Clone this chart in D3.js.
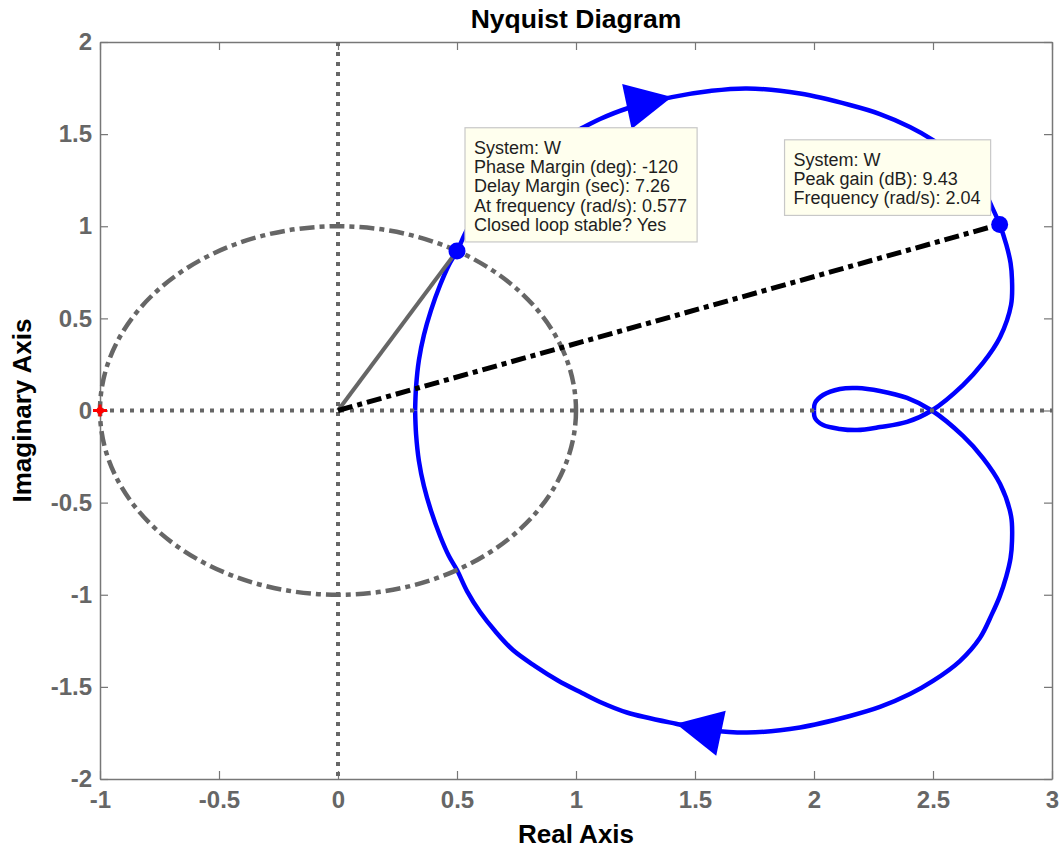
<!DOCTYPE html>
<html>
<head>
<meta charset="utf-8">
<script src="https://cdn.jsdelivr.net/npm/d3@7"></script>
<style>
  body { margin: 0; background: #fff; }
  text { font-family: Arial, "Liberation Sans", sans-serif; }
</style>
</head>
<body>
<svg id="chart" width="1062" height="850"></svg>
<script>
// axis ticks
const xTicks = [-1, -0.5, 0, 0.5, 1, 1.5, 2, 2.5, 3];
const yTicks = [-2, -1.5, -1, -0.5, 0, 0.5, 1, 1.5, 2];

// positive frequency branch (w = 0 -> inf)
const posRe = [0.324, 0.328, 0.34, 0.361, 0.391, 0.429, 0.466, 0.5, 0.542, 0.597, 0.66, 0.735, 0.828, 0.924, 1.025, 1.101, 1.214, 1.403, 1.563, 1.718, 1.941, 2.151, 2.277, 2.403, 2.5, 2.613, 2.697, 2.748, 2.78, 2.808, 2.826, 2.832, 2.828, 2.782, 2.71, 2.626, 2.495, 2.391, 2.277, 2.181, 2.109, 2.038, 2.004, 2.0];
const posIm = [0, 0.128, 0.274, 0.41, 0.545, 0.681, 0.79, 0.866, 0.98, 1.094, 1.197, 1.3, 1.387, 1.465, 1.533, 1.582, 1.639, 1.701, 1.734, 1.748, 1.72, 1.658, 1.609, 1.539, 1.468, 1.36, 1.235, 1.104, 1.01, 0.9, 0.8, 0.708, 0.573, 0.399, 0.258, 0.138, 0, -0.062, -0.09, -0.106, -0.1, -0.079, -0.041, 0];

// negative frequency branch (w = -inf -> 0)
const negRe = [2.0, 2.004, 2.038, 2.109, 2.181, 2.277, 2.391, 2.495, 2.626, 2.71, 2.782, 2.828, 2.832, 2.826, 2.808, 2.78, 2.748, 2.697, 2.613, 2.5, 2.403, 2.277, 2.151, 1.941, 1.718, 1.563, 1.42, 1.214, 1.101, 1.025, 0.924, 0.828, 0.735, 0.66, 0.597, 0.542, 0.5, 0.466, 0.429, 0.391, 0.361, 0.34, 0.328, 0.324];
const negIm = [0, 0.04, 0.084, 0.117, 0.122, 0.106, 0.068, 0, -0.138, -0.258, -0.399, -0.573, -0.708, -0.8, -0.9, -1.01, -1.104, -1.235, -1.36, -1.468, -1.539, -1.609, -1.658, -1.72, -1.748, -1.734, -1.7, -1.639, -1.582, -1.533, -1.465, -1.387, -1.3, -1.197, -1.094, -0.98, -0.866, -0.79, -0.681, -0.545, -0.41, -0.274, -0.128, 0];

// arrow positions (index into each branch)
const posArrow = 17;
const negArrow = 26;

// characteristic points
const pmPoint = [0.5, 0.866];
const peakPoint = [2.78, 1.01];
const critPoint = [-1, 0];

const pmText = [
  'System: W',
  'Phase Margin (deg): -120',
  'Delay Margin (sec): 7.26',
  'At frequency (rad/s): 0.577',
  'Closed loop stable? Yes'
];
const peakText = [
  'System: W',
  'Peak gain (dB): 9.43',
  'Frequency (rad/s): 2.04'
];

const svg = d3.select('#chart');
const pLeft = 100, pRight = 1052, pTop = 42, pBottom = 779;

const x = d3.scaleLinear().domain([-1, 3]).range([pLeft, pRight]);
const y = d3.scaleLinear().domain([-2, 2]).range([pBottom, pTop]);

svg.append('rect')
  .attr('width', 1062)
  .attr('height', 850)
  .attr('fill', '#fff');

const fmt = d => String(d);

// axes with inward ticks
const axes = svg.append('g').attr('class', 'axes');
axes.append('g')
  .attr('transform', `translate(0,${pBottom})`)
  .call(d3.axisBottom(x).tickValues(xTicks).tickFormat(fmt).tickSizeInner(-8).tickSizeOuter(0).tickPadding(12));
axes.append('g')
  .attr('transform', `translate(${pLeft},0)`)
  .call(d3.axisLeft(y).tickValues(yTicks).tickFormat(fmt).tickSizeInner(-8).tickSizeOuter(0).tickPadding(8));
axes.append('g')
  .attr('transform', `translate(0,${pTop})`)
  .call(d3.axisTop(x).tickValues(xTicks).tickFormat('').tickSizeInner(-8).tickSizeOuter(0));
axes.append('g')
  .attr('transform', `translate(${pRight},0)`)
  .call(d3.axisRight(y).tickValues(yTicks).tickFormat('').tickSizeInner(-8).tickSizeOuter(0));

axes.selectAll('path.domain').attr('stroke', '#777').attr('stroke-width', 1.5);
axes.selectAll('.tick line').attr('stroke', '#777').attr('stroke-width', 1.2);
axes.selectAll('.tick text')
  .attr('fill', '#666')
  .attr('font-size', 24)
  .attr('font-weight', 'bold')
  .attr('font-family', 'Arial, "Liberation Sans", sans-serif');

// Nyquist curve
const line = d3.line()
  .x(d => x(d[0])).y(d => y(d[1]))
  .curve(d3.curveCatmullRom.alpha(0.5));
const posPts = posRe.map((r, i) => [r, posIm[i]]);
const negPts = negRe.map((r, i) => [r, negIm[i]]);

const plot = svg.append('g');
[posPts, negPts].forEach(pts => {
  plot.append('path')
    .datum(pts)
    .attr('d', line)
    .attr('fill', 'none')
    .attr('stroke', '#0000ff')
    .attr('stroke-width', 4.5)
    .attr('stroke-linejoin', 'round');
});

const arrow = (pts, i) => {
  const px = x(pts[i][0]), py = y(pts[i][1]);
  const dx = x(pts[i + 1][0]) - x(pts[i - 1][0]);
  const dy = y(pts[i + 1][1]) - y(pts[i - 1][1]);
  const len = Math.hypot(dx, dy);
  const ux = dx / len, uy = dy / len;
  const bx = px - ux * 46, by = py - uy * 46;
  const tri = [[px, py], [bx - uy * 23, by + ux * 23], [bx + uy * 23, by - ux * 23]];
  plot.append('path')
    .attr('d', 'M' + tri.map(p => p.join(',')).join('L') + 'Z')
    .attr('fill', '#0000ff');
};
arrow(posPts, posArrow);
arrow(negPts, negArrow);

// zero lines
plot.append('line')
  .attr('x1', x(0)).attr('x2', x(0)).attr('y1', pTop).attr('y2', pBottom)
  .attr('stroke', '#666').attr('stroke-width', 4).attr('stroke-dasharray', '4,6');
plot.append('line')
  .attr('x1', pLeft).attr('x2', pRight).attr('y1', y(0)).attr('y2', y(0))
  .attr('stroke', '#666').attr('stroke-width', 4).attr('stroke-dasharray', '4,6');

// unit circle
plot.append('ellipse')
  .attr('cx', x(0)).attr('cy', y(0))
  .attr('rx', x(1) - x(0)).attr('ry', y(0) - y(1))
  .attr('fill', 'none')
  .attr('stroke', '#666')
  .attr('stroke-width', 4.5)
  .attr('stroke-dasharray', '15,5,5,5');

// margin chords
plot.append('line')
  .attr('x1', x(0)).attr('y1', y(0)).attr('x2', x(pmPoint[0])).attr('y2', y(pmPoint[1]))
  .attr('stroke', '#666').attr('stroke-width', 4);
plot.append('line')
  .attr('x1', x(0)).attr('y1', y(0)).attr('x2', x(peakPoint[0])).attr('y2', y(peakPoint[1]))
  .attr('stroke', '#000').attr('stroke-width', 5).attr('stroke-dasharray', '15,5,5,5');

// markers
[pmPoint, peakPoint].forEach(p => {
  plot.append('circle')
    .attr('cx', x(p[0])).attr('cy', y(p[1])).attr('r', 8.5)
    .attr('fill', '#0000ff');
});
const cx = x(critPoint[0]), cy = y(critPoint[1]);
plot.append('path')
  .attr('d', `M${cx - 7},${cy}H${cx + 7}M${cx},${cy - 6}V${cy + 6}`)
  .attr('stroke', '#ff0000').attr('stroke-width', 3);
plot.append('circle').attr('cx', cx).attr('cy', cy).attr('r', 3.5).attr('fill', '#ff0000');

// data tip boxes
const dataTip = (lines, px, py, anchorRight) => {
  const g = svg.append('g');
  const rect = g.append('rect');
  const texts = lines.map((t, i) => g.append('text')
    .attr('x', 9)
    .attr('y', 26 + i * 19.3)
    .attr('font-size', 18)
    .attr('fill', '#1e1e1e')
    .text(t));
  const w = d3.max(texts, t => t.node().getComputedTextLength()) + 19;
  const h = 26 + (lines.length - 1) * 19.3 + 11;
  rect.attr('width', w).attr('height', h)
    .attr('fill', '#ffffee').attr('stroke', '#c8c8c8').attr('stroke-width', 1.2);
  const bx = anchorRight ? px - 9 - w : px + 8;
  const by = py - 9 - h;
  g.attr('transform', `translate(${bx},${by})`);
};
dataTip(pmText, x(pmPoint[0]), y(pmPoint[1]), false);
dataTip(peakText, x(peakPoint[0]), y(peakPoint[1]), true);

// titles
svg.append('text')
  .attr('x', (pLeft + pRight) / 2).attr('y', 28)
  .attr('text-anchor', 'middle')
  .attr('font-size', 26.5).attr('font-weight', 'bold')
  .text('Nyquist Diagram');
svg.append('text')
  .attr('x', (pLeft + pRight) / 2).attr('y', 843)
  .attr('text-anchor', 'middle')
  .attr('font-size', 26).attr('font-weight', 'bold')
  .text('Real Axis');
svg.append('text')
  .attr('transform', `translate(31,${(pTop + pBottom) / 2}) rotate(-90)`)
  .attr('text-anchor', 'middle')
  .attr('font-size', 26).attr('font-weight', 'bold')
  .text('Imaginary Axis');
</script>
</body>
</html>
